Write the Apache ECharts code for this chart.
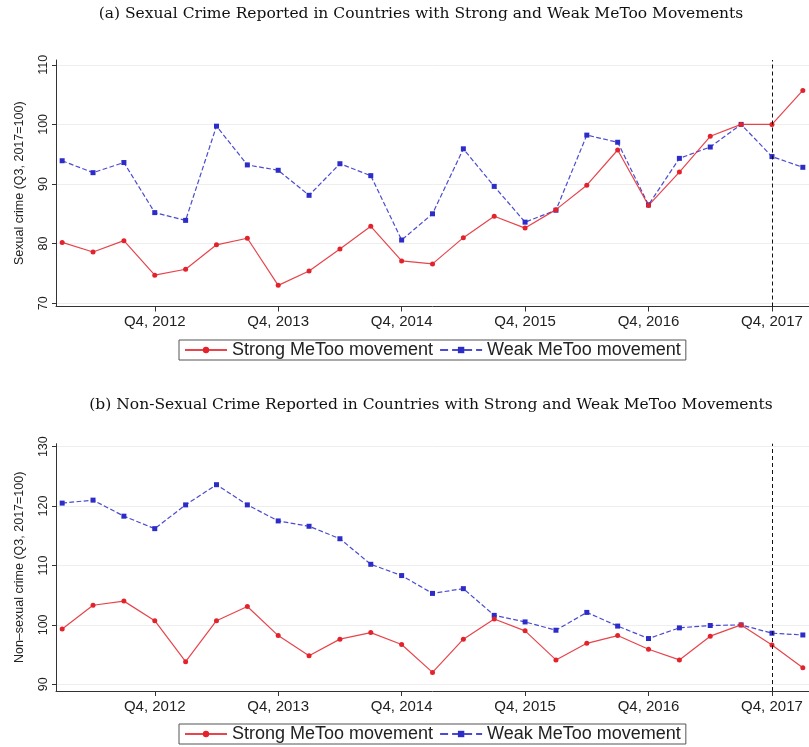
<!DOCTYPE html>
<html>
<head>
<meta charset="utf-8">
<script src="https://cdn.jsdelivr.net/npm/echarts@6/dist/echarts.min.js"></script>
<style>
  html, body { margin: 0; padding: 0; background: #fff; }
  #chart { width: 809px; height: 747px; }
</style>
</head>
<body>
<div id="chart"></div>
<script>
// quarters Q1 2012 .. Q1 2018 (index 0..24)
const quarters = ['Q1, 2012', 'Q2, 2012', 'Q3, 2012', 'Q4, 2012',
  'Q1, 2013', 'Q2, 2013', 'Q3, 2013', 'Q4, 2013',
  'Q1, 2014', 'Q2, 2014', 'Q3, 2014', 'Q4, 2014',
  'Q1, 2015', 'Q2, 2015', 'Q3, 2015', 'Q4, 2015',
  'Q1, 2016', 'Q2, 2016', 'Q3, 2016', 'Q4, 2016',
  'Q1, 2017', 'Q2, 2017', 'Q3, 2017', 'Q4, 2017',
  'Q1, 2018'];
const tickQuarters = ['Q4, 2012', 'Q4, 2013', 'Q4, 2014', 'Q4, 2015', 'Q4, 2016', 'Q4, 2017'];
const metooQuarter = 'Q4, 2017';

// (a) sexual crime
const sexStrong = [80.2, 78.6, 80.5, 74.7, 75.7, 79.8, 80.9, 73.0, 75.4, 79.1, 82.9, 77.1,
  76.6, 81.0, 84.6, 82.6, 85.7, 89.8, 95.7, 86.4, 92.0, 98.0, 100, 100, 105.7];
const sexWeak = [93.9, 91.9, 93.6, 85.2, 83.9, 99.7, 93.2, 92.3, 88.1, 93.4, 91.4, 80.6,
  85.0, 95.9, 89.6, 83.6, 85.6, 98.2, 97.0, 86.5, 94.3, 96.2, 100, 94.6, 92.8];

// (b) non-sexual crime
const nonStrong = [99.3, 103.3, 104.0, 100.7, 93.8, 100.7, 103.1, 98.2, 94.8, 97.6, 98.7, 96.7,
  92.0, 97.6, 101.0, 99.0, 94.1, 96.9, 98.2, 95.9, 94.1, 98.1, 100, 96.6, 92.8];
const nonWeak = [120.5, 121.0, 118.3, 116.2, 120.2, 123.6, 120.2, 117.5, 116.6, 114.5, 110.2, 108.3,
  105.3, 106.1, 101.6, 100.5, 99.1, 102.1, 99.8, 97.7, 99.5, 99.9, 100, 98.6, 98.3];

const sexTicks = [70, 80, 90, 100, 110];
const nonTicks = [90, 100, 110, 120, 130];

const seriesNames = ['Strong MeToo movement', 'Weak MeToo movement'];
const titles = ['(a) Sexual Crime Reported in Countries with Strong and Weak MeToo Movements',
  '(b) Non-Sexual Crime Reported in Countries with Strong and Weak MeToo Movements'];
const yNames = ['Sexual crime (Q3, 2017=100)', 'Non\u2013sexual crime (Q3, 2017=100)'];

const RED = '#e3232c';
const BLUE = '#2c2cc8';
const sans = 'Liberation Sans, Arial, sans-serif';

function pairs(arr) {
  return arr.map((v, i) => [i, v]);
}

const tickIdx = tickQuarters.map(q => quarters.indexOf(q));

function xAxisFor(gi) {
  return {
    type: 'value', gridIndex: gi, min: -0.2, max: 24.2,
    axisLine: { onZero: false, lineStyle: { color: '#333', width: 1 } },
    axisTick: { customValues: tickIdx, length: 5, lineStyle: { color: '#333' } },
    axisLabel: {
      customValues: tickIdx, margin: 8, color: '#222', fontFamily: sans, fontSize: 15,
      formatter: v => quarters[v]
    },
    splitLine: { show: false }
  };
}

function yAxisFor(gi, ticks, min, max) {
  return {
    type: 'value', gridIndex: gi, min: min, max: max,
    name: yNames[gi], nameLocation: 'middle', nameGap: 30,
    nameTextStyle: { color: '#222', fontFamily: sans, fontSize: 12.5 },
    axisLine: { show: true, onZero: false, lineStyle: { color: '#333', width: 1 } },
    axisTick: { show: true, customValues: ticks, length: 4, lineStyle: { color: '#333' } },
    axisLabel: { customValues: ticks, rotate: 90, margin: 6, color: '#222', fontFamily: sans, fontSize: 12.5 },
    splitLine: { show: true, lineStyle: { color: '#eeeeee', width: 1 } }
  };
}

function lineSeries(name, gi, data, strong, withMark) {
  const s = {
    name: name, type: 'line', xAxisIndex: gi, yAxisIndex: gi,
    data: pairs(data),
    symbol: strong ? 'circle' : 'rect',
    symbolSize: 5,
    itemStyle: { color: strong ? RED : BLUE },
    lineStyle: { color: strong ? RED : BLUE, width: 1.2, type: strong ? 'solid' : 'dashed', opacity: 0.85 },
    animation: false, z: strong ? 3 : 2
  };
  if (withMark) {
    s.markLine = {
      silent: true, symbol: 'none', label: { show: false },
      lineStyle: { color: '#111', type: [4, 3], width: 1 },
      data: [{ xAxis: quarters.indexOf(metooQuarter) }]
    };
  }
  return s;
}

function legendFor(top) {
  return {
    top: top, left: 179, data: seriesNames,
    itemWidth: 42, itemHeight: 8, itemGap: 6,
    padding: [1, 5], borderColor: '#555', borderWidth: 1,
    textStyle: { color: '#222', fontFamily: sans, fontSize: 18 },
    selectedMode: false
  };
}

const chart = echarts.init(document.getElementById('chart'), null, { renderer: 'canvas' });

chart.setOption({
  backgroundColor: '#fff',
  animation: false,
  graphic: [
    { type: 'text', x: 421, y: 14, style: { text: titles[0], font: '15.5px "DejaVu Serif", serif', fill: '#111', align: 'center', verticalAlign: 'middle' } },
    { type: 'text', x: 431, y: 405, style: { text: titles[1], font: '15.5px "DejaVu Serif", serif', fill: '#111', align: 'center', verticalAlign: 'middle' } }
  ],
  legend: [legendFor(340), legendFor(724)],
  grid: [
    { left: 56, right: 0, top: 60, bottom: 440.5 },
    { left: 56, right: 0, top: 443.7, bottom: 56 }
  ],
  xAxis: [xAxisFor(0), xAxisFor(1)],
  yAxis: [yAxisFor(0, sexTicks, 69.45, 110.8), yAxisFor(1, nonTicks, 88.87, 130.5)],
  series: [
    lineSeries(seriesNames[0], 0, sexStrong, true, true),
    lineSeries(seriesNames[1], 0, sexWeak, false, false),
    lineSeries(seriesNames[0], 1, nonStrong, true, true),
    lineSeries(seriesNames[1], 1, nonWeak, false, false)
  ]
});
</script>
</body>
</html>
